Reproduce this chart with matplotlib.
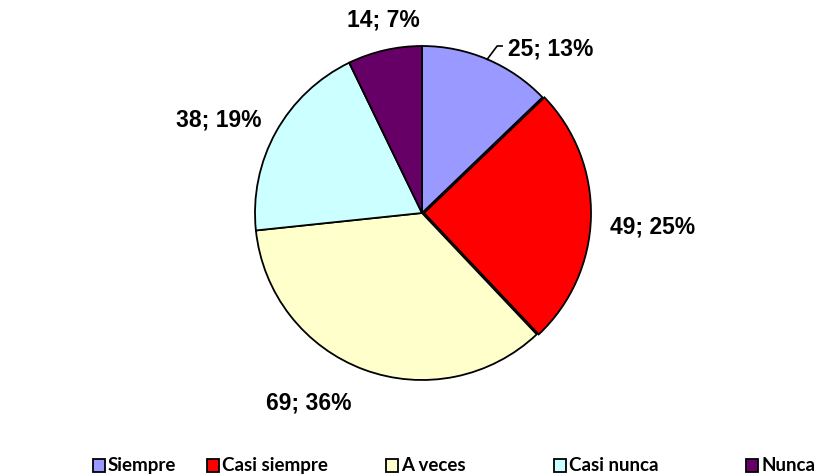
#Importing the necessary Libraries
import matplotlib.pyplot as plt
from matplotlib.patches import Rectangle

#Data for the chart
categories = ["Siempre", "Casi siempre", "A veces", "Casi nunca", "Nunca"]
values = [25, 49, 69, 38, 14]
percents = [13, 25, 36, 19, 7]
colors = ["#9999FF", "#FF0000", "#FFFFCC", "#CCFFFF", "#660066"]

#layout for labels (data coords of the pie axes) and legend (pixels)
label_pos = [(0.77, 0.99), (1.38, -0.08), (-0.68, -1.13), (-1.22, 0.56), (-0.23, 1.16)]
legend_x = [93, 207, 386, 554, 746]

W, H = 830, 477
fig = plt.figure(figsize=(W / 100, H / 100), dpi=100)

#Pie axes placed in pixels: center (422,214), radius 167
cx, cy, r = 422, 214, 167
ax = fig.add_axes([(cx - r) / W, 1 - (cy + r) / H, 2 * r / W, 2 * r / H])
ax.pie(values, colors=colors, startangle=90, counterclock=False,
       explode=[0, 0.012, 0, 0, 0],
       wedgeprops=dict(edgecolor="black", linewidth=1.3))
ax.set_xlim(-1, 1)
ax.set_ylim(-1, 1)
ax.axis("off")

for (x, y), v, p in zip(label_pos, values, percents):
    ax.text(x, y, f"{v}; {p}%", ha="center", va="center", fontsize=16.5,
            fontweight="bold", family="Liberation Sans", clip_on=False)

#leader line for the first label
ax.plot([0.39, 0.45, 0.48], [0.92, 1.0, 1.0], color="black", lw=1.2, clip_on=False)

#Legend drawn manually
ly = H - 466
for x, name, c in zip(legend_x, categories, colors):
    fig.patches.append(Rectangle((x / W, (ly - 7) / H), 12 / W, 13 / H,
                                 transform=fig.transFigure, facecolor=c,
                                 edgecolor="black", linewidth=1.3))
    fig.text((x + 15) / W, ly / H, name, ha="left", va="center", fontsize=13.5,
             fontweight="bold", family="Lato")

fig.savefig("out.png", dpi=100)
